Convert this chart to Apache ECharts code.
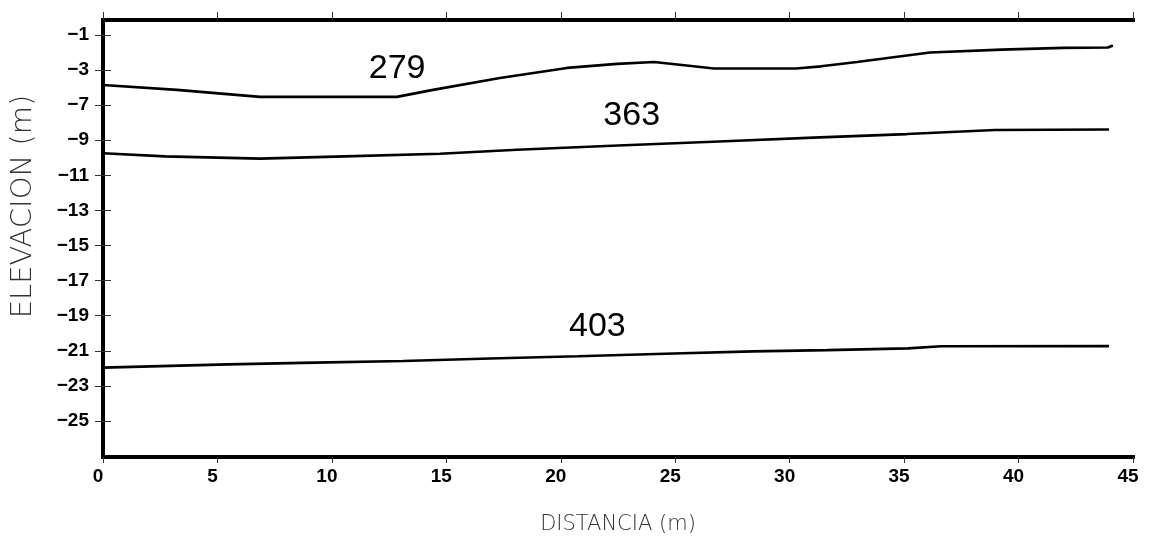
<!DOCTYPE html>
<html><head><meta charset="utf-8">
<script src="https://cdn.jsdelivr.net/npm/echarts@6/dist/echarts.min.js"></script>
<style>html,body{margin:0;padding:0;background:#fff}#c{width:1154px;height:547px}</style>
</head><body><div id="c"></div>
<script>
// ---- data ----
const x279 = [0, 3.23, 6.86, 12.84, 14.42, 17.34, 20.27, 22.46, 24.07, 25.30, 26.69, 30.28, 31.37, 32.94, 36.13, 39.27, 41.94, 43.90, 44.12];
const y279 = [-5.85, -6.13, -6.53, -6.53, -6.13, -5.45, -4.88, -4.65, -4.54, -4.71, -4.91, -4.91, -4.79, -4.54, -4.00, -3.84, -3.74, -3.72, -3.60];
const x363 = [0, 2.71, 6.86, 10.57, 14.72, 18.09, 22.50, 26.91, 31.32, 35.12, 38.97, 43.95];
const y363 = [-9.74, -9.92, -10.05, -9.92, -9.77, -9.54, -9.30, -9.07, -8.84, -8.65, -8.42, -8.39];
const x403 = [0, 5.46, 9.26, 13.11, 16.91, 20.75, 24.55, 28.40, 31.63, 35.17, 36.61, 43.95];
const y403 = [-21.96, -21.77, -21.67, -21.58, -21.44, -21.31, -21.17, -21.03, -20.96, -20.86, -20.74, -20.73];

const seriesNames = ['279', '363', '403'];
const labelX = [12.85, 23.1, 21.6];
const labelY = [-4.9, -7.6, -19.6];

const xTickValues = [0, 5, 10, 15, 20, 25, 30, 35, 40, 45];
const yTickValues = [-3, -5, -7, -9, -11, -13, -15, -17, -19, -21, -23, -25];
const yTickLabels = ['\u22121', '\u22123', '\u22127', '\u22129', '\u221211', '\u221213', '\u221215', '\u221217', '\u221219', '\u221221', '\u221223', '\u221225'];

const xName = 'DISTANCIA (m)';
const yName = 'ELEVACION (m)';

// ---- build ----
const zip = (xs, ys) => xs.map((x, i) => [x, ys[i]]);
const lineData = [zip(x279, y279), zip(x363, y363), zip(x403, y403)];

const yFmt = v => {
  const i = yTickValues.findIndex(t => Math.abs(t - v) < 1e-6);
  return i >= 0 ? yTickLabels[i] : '';
};

const frameLine = { show: true, lineStyle: { color: '#000', width: 4, cap: 'square' } };
const tickStyle = { color: '#333', width: 1 };
const tickFont = { color: '#000', fontFamily: 'Liberation Sans, Arial, sans-serif', fontWeight: 'bold', fontSize: 19 };
const nameFont = { color: '#333', fontFamily: 'DejaVu Sans, sans-serif', fontWeight: 200 };

const chart = echarts.init(document.getElementById('c'), null, { renderer: 'canvas' });
chart.setOption({
  animation: false,
  backgroundColor: '#fff',
  grid: { left: 103, right: 21, top: 20, bottom: 90, containLabel: false, outerBoundsMode: 'none' },
  xAxis: [
    {
      type: 'value', position: 'bottom', min: 0, max: 45, interval: 5,
      axisLine: frameLine,
      axisTick: { show: true, inside: false, length: 6, lineStyle: tickStyle },
      axisLabel: Object.assign({ margin: 10, padding: [0, 10, 0, 0], showMinLabel: true, showMaxLabel: true }, tickFont),
      splitLine: { show: false },
      name: xName, nameLocation: 'middle', nameGap: 57,
      nameTextStyle: Object.assign({ fontSize: 21 }, nameFont)
    },
    {
      type: 'value', position: 'top', min: 0, max: 45, interval: 5,
      axisLine: frameLine,
      axisTick: { show: true, inside: false, length: 8, lineStyle: tickStyle },
      axisLabel: { show: false },
      splitLine: { show: false }
    }
  ],
  yAxis: [
    {
      type: 'value', position: 'left', min: -27.05, max: -2.15,
      axisLine: frameLine,
      axisTick: { show: true, inside: false, length: 8, lineStyle: tickStyle, customValues: yTickValues },
      axisLabel: Object.assign({ margin: 14, formatter: yFmt, customValues: yTickValues }, tickFont),
      splitLine: { show: false },
      name: yName, nameLocation: 'middle', nameRotate: 90, nameGap: 65,
      nameTextStyle: Object.assign({ fontSize: 29, padding: [0, 0, 0, 64] }, nameFont)
    },
    {
      type: 'value', position: 'right', min: -27.05, max: -2.15,
      axisLine: frameLine,
      axisTick: { show: true, inside: false, length: 8, lineStyle: tickStyle, customValues: yTickValues },
      axisLabel: { show: false },
      splitLine: { show: false }
    }
  ],
  series: seriesNames.map((n, i) => ({
    name: n,
    type: 'line',
    xAxisIndex: 0,
    yAxisIndex: 0,
    data: lineData[i],
    showSymbol: false,
    symbol: 'none',
    lineStyle: { color: '#000', width: 2.6 },
    markPoint: {
      symbol: 'rect', symbolSize: [1, 1],
      itemStyle: { color: 'rgba(0,0,0,0)' },
      label: { show: true, position: 'inside', formatter: n, color: '#000', fontSize: 34, fontFamily: 'Liberation Sans, Arial, sans-serif' },
      data: [{ coord: [labelX[i], labelY[i]] }]
    }
  }))
});
</script></body></html>
